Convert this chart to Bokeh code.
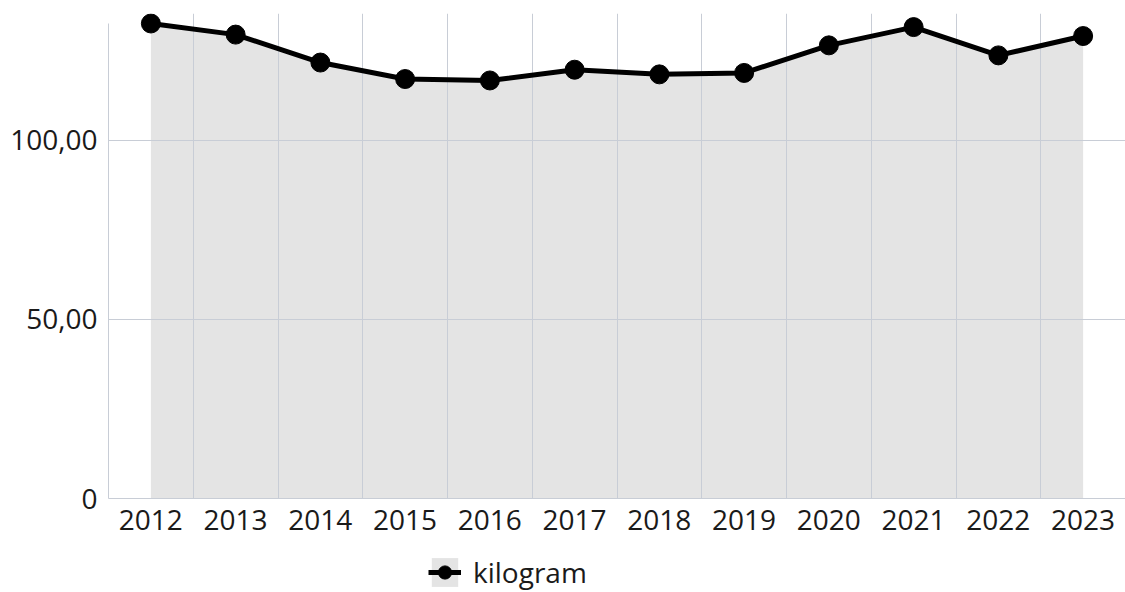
from bokeh.plotting import figure
from bokeh.layouts import column
from bokeh.models import FixedTicker, Legend, LegendItem, ColumnDataSource, Range1d
from bokeh.embed import file_html
from bokeh.resources import INLINE

years = ["2012", "2013", "2014", "2015", "2016", "2017",
         "2018", "2019", "2020", "2021", "2022", "2023"]
kilogram = [132.6, 129.5, 121.7, 117.1, 116.7, 119.7,
            118.4, 118.8, 126.5, 131.6, 123.7, 129.1]
y_ticks = [0, 50, 100]
y_tick_labels = ["0", "50,00", "100,00"]
series_name = "kilogram"

FONT = "Open Sans"
GRID = "#c8cdd6"
AREA = "#e4e4e4"
PX_PER_UNIT = 475 / max(kilogram)

xs = list(range(len(years)))
src = ColumnDataSource(dict(x=xs, y=kilogram, zero=[0] * len(xs)))

p = figure(frame_width=1017, frame_height=485, output_backend="svg", toolbar_location=None,
           x_range=Range1d(-0.5, len(years) - 0.5),
           y_range=Range1d(0, 485 / PX_PER_UNIT),
           min_border_left=108, min_border_right=0, min_border_top=13,
           min_border_bottom=50)
p.outline_line_color = None
p.background_fill_color = "white"

area = p.varea(x="x", y1="zero", y2="y", source=src, fill_color=AREA)
area.level = "image"
ln = p.line(x="x", y="y", source=src, line_color="black", line_width=5)
sc = p.scatter(x="x", y="y", source=src, size=19, fill_color="black", line_color="black")

# axes
p.xaxis.ticker = FixedTicker(ticks=xs)
p.xaxis.major_label_overrides = {i: years[i] for i in xs}
p.yaxis.ticker = FixedTicker(ticks=y_ticks)
p.yaxis.major_label_overrides = {t: l for t, l in zip(y_ticks, y_tick_labels)}
p.yaxis.bounds = (0, max(kilogram))
for ax in (p.xaxis[0], p.yaxis[0]):
    ax.axis_line_color = GRID
    ax.axis_line_width = 1
    ax.major_tick_line_color = None
    ax.minor_tick_line_color = None
    ax.major_label_text_font = FONT
    ax.major_label_text_font_size = "28px"
    ax.major_label_text_color = "#1a1a1a"
p.yaxis.major_label_standoff = 5
p.xaxis.major_label_standoff = 5

# grids
p.xgrid.ticker = FixedTicker(ticks=[i + 0.5 for i in xs[:-1]])
p.xgrid.grid_line_color = GRID
p.ygrid.ticker = FixedTicker(ticks=y_ticks[1:])
p.ygrid.grid_line_color = GRID

# legend strip below the chart (its glyph renderers sit outside its visible ranges)
lg = figure(frame_width=1125, frame_height=44, output_backend="svg", toolbar_location=None,
            x_range=Range1d(-100, -99), y_range=Range1d(-100, -99),
            x_axis_location=None, y_axis_location=None,
            min_border=0, min_border_left=0, min_border_right=0,
            min_border_top=0, min_border_bottom=0)
lg.outline_line_color = None
lg.grid.visible = False
la = lg.varea(x="x", y1="zero", y2="y", source=src, fill_color=AREA)
ll = lg.line(x="x", y="y", source=src, line_color="black", line_width=5)
ls = lg.scatter(x="x", y="y", source=src, size=19, fill_color="black", line_color="black")

legend = Legend(items=[LegendItem(label=series_name, renderers=[la, ll, ls])],
                location=(428, 1), orientation="horizontal",
                border_line_color=None, background_fill_alpha=0,
                padding=0, margin=0, spacing=0,
                glyph_width=33, glyph_height=36, label_standoff=12,
                label_text_font=FONT, label_text_font_size="28px",
                label_text_color="#1a1a1a", label_height=36)
lg.add_layout(legend, "center")

layout = column(p, lg, spacing=0)
open("out.html", "w").write(file_html(layout, INLINE))
